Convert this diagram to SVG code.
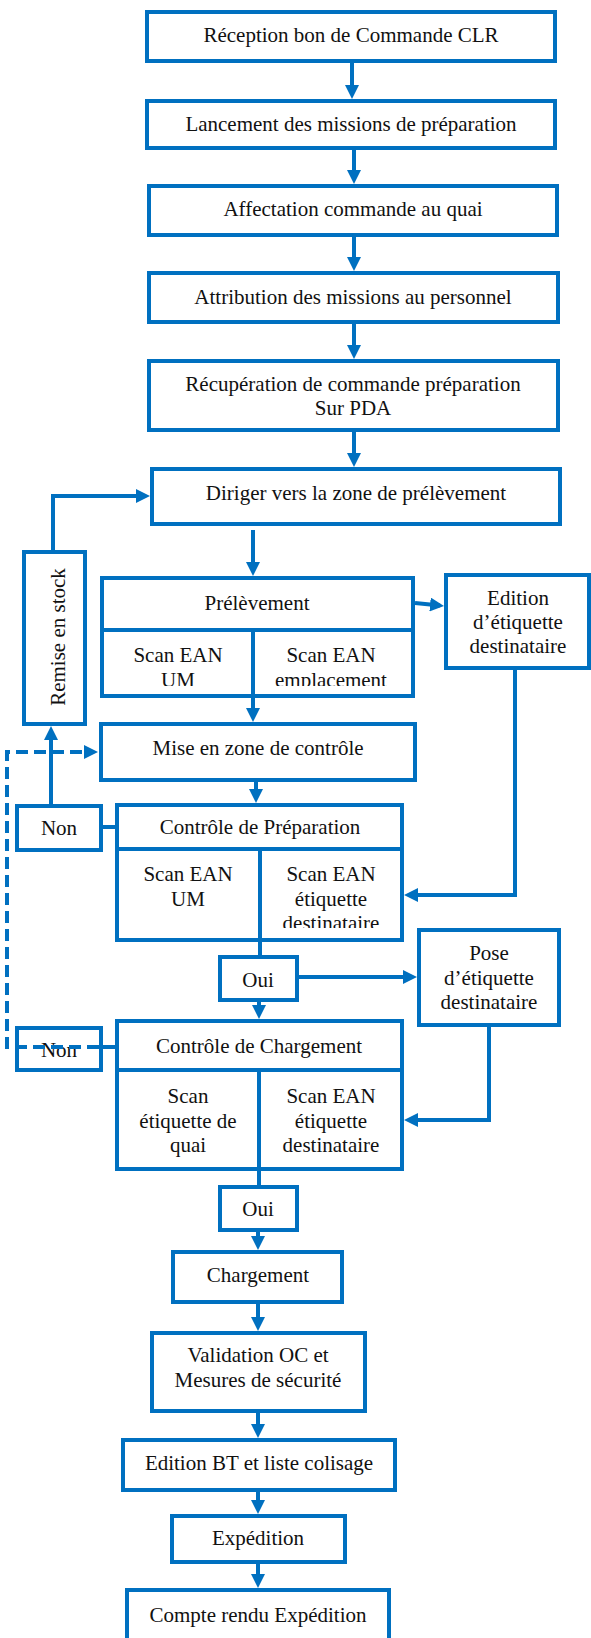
<svg xmlns="http://www.w3.org/2000/svg" width="591" height="1638" viewBox="0 0 591 1638">
  <style>
    .box { fill: #ffffff; stroke: #0070C0; stroke-width: 4; }
    .div { fill: none; stroke: #0070C0; stroke-width: 4; }
    .ln { fill: none; stroke: #0070C0; stroke-width: 4; }
    .dash { stroke-dasharray: 12 6; }
    .t { font-family: 'Liberation Serif', 'DejaVu Serif', serif; font-size: 21px; text-anchor: middle; fill: #111111; }
  </style>
  <defs>
    <marker id="ah" markerUnits="userSpaceOnUse" viewBox="0 0 14 14" markerWidth="14" markerHeight="14" refX="10" refY="7" orient="auto">
      <path d="M0,0 L14,7 L0,14 z" fill="#0070C0"/>
    </marker>
    <clipPath id="clipPrel"><rect x="104" y="632" width="307" height="54"/></clipPath>
    <clipPath id="clipCp"><rect x="262" y="851" width="138" height="77"/></clipPath>
  </defs>
  <rect width="591" height="1638" fill="#ffffff"/>

  <g id="reception">
    <rect class="box" x="147" y="12" width="408" height="49"/>
    <text class="t" font-family="Liberation Serif" x="351" y="42">Réception bon de Commande CLR</text>
  </g>
  <g id="lancement">
    <rect class="box" x="147" y="101" width="408" height="47"/>
    <text class="t" x="351" y="131">Lancement des missions de préparation</text>
  </g>
  <g id="affectation">
    <rect class="box" x="149" y="186" width="408" height="49"/>
    <text class="t" x="353" y="216">Affectation commande au quai</text>
  </g>
  <g id="attribution">
    <rect class="box" x="149" y="273" width="409" height="49"/>
    <text class="t" x="353" y="304">Attribution des missions au personnel</text>
  </g>
  <g id="recuperation">
    <rect class="box" x="149" y="361" width="409" height="69"/>
    <text class="t" x="353" y="391">Récupération de commande préparation</text>
    <text class="t" x="353" y="415">Sur PDA</text>
  </g>
  <g id="diriger">
    <rect class="box" x="152" y="469" width="408" height="55"/>
    <text class="t" x="356" y="500">Diriger vers la zone de prélèvement</text>
  </g>
  <g id="remise">
    <rect class="box" x="24" y="552" width="61" height="172"/>
    <text class="t" transform="translate(65,637) rotate(-90)">Remise en stock</text>
  </g>
  <g id="prelevement">
    <rect class="box" x="102" y="578" width="311" height="118"/>
    <path class="div" d="M102,630 H413 M253,630 V696"/>
    <text class="t" x="257" y="610">Prélèvement</text>
    <g clip-path="url(#clipPrel)">
      <text class="t" x="178" y="662">Scan EAN</text>
      <text class="t" x="178" y="687">UM</text>
      <text class="t" x="331" y="662">Scan EAN</text>
      <text class="t" x="331" y="687">emplacement</text>
    </g>
  </g>
  <g id="edition-etiquette">
    <rect class="box" x="446" y="575" width="143" height="93"/>
    <text class="t" x="518" y="605">Edition</text>
    <text class="t" x="518" y="629">d’étiquette</text>
    <text class="t" x="518" y="653">destinataire</text>
  </g>
  <g id="mise-zone">
    <rect class="box" x="101" y="724" width="314" height="56"/>
    <text class="t" x="258" y="755">Mise en zone de contrôle</text>
  </g>
  <g id="non-preparation">
    <rect class="box" x="17" y="806" width="84" height="44"/>
    <text class="t" x="59" y="835">Non</text>
  </g>
  <g id="controle-preparation">
    <rect class="box" x="117" y="805" width="285" height="135"/>
    <path class="div" d="M117,849 H402 M260,849 V940"/>
    <text class="t" x="260" y="834">Contrôle de Préparation</text>
    <text class="t" x="188" y="881">Scan EAN</text>
    <text class="t" x="188" y="906">UM</text>
    <g clip-path="url(#clipCp)">
      <text class="t" x="331" y="881">Scan EAN</text>
      <text class="t" x="331" y="906">étiquette</text>
      <text class="t" x="331" y="930">destinataire</text>
    </g>
  </g>
  <g id="oui-preparation">
    <rect class="box" x="220" y="957" width="77" height="43"/>
    <text class="t" x="258" y="987">Oui</text>
  </g>
  <g id="pose-etiquette">
    <rect class="box" x="419" y="930" width="140" height="95"/>
    <text class="t" x="489" y="960">Pose</text>
    <text class="t" x="489" y="985">d’étiquette</text>
    <text class="t" x="489" y="1009">destinataire</text>
  </g>
  <g id="non-chargement">
    <rect class="box" x="17" y="1028" width="84" height="42"/>
    <text class="t" x="59" y="1057">Non</text>
  </g>
  <g id="controle-chargement">
    <rect class="box" x="117" y="1021" width="285" height="148"/>
    <path class="div" d="M117,1070 H402 M259,1070 V1169"/>
    <text class="t" x="259" y="1053">Contrôle de Chargement</text>
    <text class="t" x="188" y="1103">Scan</text>
    <text class="t" x="188" y="1128">étiquette de</text>
    <text class="t" x="188" y="1152">quai</text>
    <text class="t" x="331" y="1103">Scan EAN</text>
    <text class="t" x="331" y="1128">étiquette</text>
    <text class="t" x="331" y="1152">destinataire</text>
  </g>
  <g id="oui-chargement">
    <rect class="box" x="220" y="1187" width="77" height="43"/>
    <text class="t" x="258" y="1216">Oui</text>
  </g>
  <g id="chargement">
    <rect class="box" x="173" y="1252" width="169" height="50"/>
    <text class="t" x="258" y="1282">Chargement</text>
  </g>
  <g id="validation">
    <rect class="box" x="152" y="1333" width="213" height="78"/>
    <text class="t" x="258" y="1362">Validation OC et</text>
    <text class="t" x="258" y="1387">Mesures de sécurité</text>
  </g>
  <g id="edition-bt">
    <rect class="box" x="123" y="1440" width="272" height="50"/>
    <text class="t" x="259" y="1470">Edition BT et liste colisage</text>
  </g>
  <g id="expedition">
    <rect class="box" x="172" y="1516" width="173" height="46"/>
    <text class="t" x="258" y="1545">Expédition</text>
  </g>
  <g id="compte-rendu">
    <rect class="box" x="127" y="1590" width="262" height="60"/>
    <text class="t" x="258" y="1622">Compte rendu Expédition</text>
  </g>

  <g id="connectors">
    <path class="ln" marker-end="url(#ah)" d="M352,62 V95"/>
    <path class="ln" marker-end="url(#ah)" d="M354,150 V180"/>
    <path class="ln" marker-end="url(#ah)" d="M354,237 V267"/>
    <path class="ln" marker-end="url(#ah)" d="M354,324 V355"/>
    <path class="ln" marker-end="url(#ah)" d="M354,432 V463"/>
    <path class="ln" marker-end="url(#ah)" d="M253,530 V572"/>
    <path class="ln" marker-end="url(#ah)" d="M53,550 V496 H146"/>
    <path class="ln" marker-end="url(#ah)" d="M415,603 L440,605.5"/>
    <path class="ln" marker-end="url(#ah)" d="M253,696 V718"/>
    <path class="ln" marker-end="url(#ah)" d="M515,668 V895 H408"/>
    <path class="ln" marker-end="url(#ah)" d="M256,780 V799"/>
    <path class="ln" marker-end="url(#ah)" d="M51,804 V730"/>
    <path class="ln" d="M101,827 H117"/>
    <path class="ln" d="M101,1047 H117"/>
    <path class="ln dash" marker-end="url(#ah)" d="M117,1047 H7 V752 H94"/>
    <path class="ln" d="M260,940 V957"/>
    <path class="ln" marker-end="url(#ah)" d="M297,977 H413"/>
    <path class="ln" marker-end="url(#ah)" d="M259,1000 V1015"/>
    <path class="ln" marker-end="url(#ah)" d="M489,1025 V1120 H408"/>
    <path class="ln" d="M259,1169 V1187"/>
    <path class="ln" marker-end="url(#ah)" d="M258,1230 V1246"/>
    <path class="ln" marker-end="url(#ah)" d="M258,1302 V1327"/>
    <path class="ln" marker-end="url(#ah)" d="M258,1411 V1434"/>
    <path class="ln" marker-end="url(#ah)" d="M258,1490 V1510"/>
    <path class="ln" marker-end="url(#ah)" d="M258,1562 V1584"/>
  </g>
</svg>
